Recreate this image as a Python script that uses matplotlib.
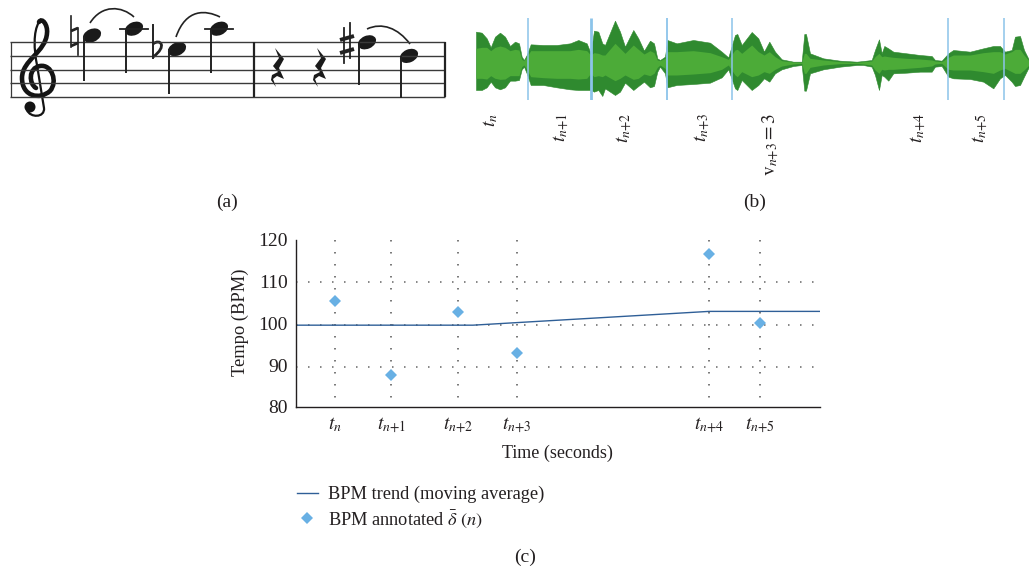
import numpy as np
import matplotlib
matplotlib.use("Agg")
import matplotlib.pyplot as plt
from matplotlib.patches import Ellipse, PathPatch
from matplotlib.path import Path

plt.rcParams['font.family'] = ['Liberation Serif', 'DejaVu Serif']
plt.rcParams['mathtext.fontset'] = 'stix'
plt.rcParams['lines.scale_dashes'] = False

INK = '#231f20'
W, H = 1029, 569

# panel (c) values; times are in hundreds of pixels along the time axis
beat_labels = [r'$t_n$', r'$t_{n{+}1}$', r'$t_{n{+}2}$', r'$t_{n{+}3}$', r'$t_{n{+}4}$', r'$t_{n{+}5}$']
beat_times = [0.39, 0.95, 1.62, 2.21, 4.13, 4.64]
bpm_annotated = [105.5, 87.6, 102.7, 92.9, 116.6, 100.2]
trend_times = [0, 1.77, 4.13, 5.24]
trend_bpm = [99.6, 99.6, 102.9, 102.9]
bpm_ticks = [80, 90, 100, 110, 120]
grid_bpm = [89.7, 99.6, 110]

# panel (b) waveform envelope (x in image pixels)
wave_x = [476, 481.7, 486.7, 490.7, 495, 500, 505, 510, 515, 519, 521.7, 524, 526.7, 530.7,
          543.3, 556.7, 570, 578.3, 586.7, 590.7, 594, 598.3, 602.3, 605, 615, 620, 625,
          633.3, 638.3, 644, 650, 654, 657.3,
          660, 665, 667.3, 676.7, 693.3, 710, 721.7, 728.3, 735, 737.3, 741.7, 751.7,
          758.3, 764, 769.3, 775, 781.7, 793.3, 801.7, 804.3, 806, 810, 823.3, 840, 856.7,
          863.3, 871.7, 875, 879, 881.7, 884.3, 888.3, 893.3, 906.7, 920, 931.7, 935, 941.7,
          948.3, 953.3, 970, 983.3, 993.3, 1000, 1005, 1011.7, 1015, 1020, 1024, 1029]
outer_top = [65, 68, 85, 112, 80, 68, 80, 108, 95, 100, 140, 150, 135, 103,
             105, 105, 100, 90, 100, 130, 62, 65, 100, 105, 32, 65, 110,
             60, 85, 122, 92, 100, 145,
             150, 140, 90, 100, 90, 98, 125, 142, 75, 72, 105, 66,
             85, 125, 95, 125, 148, 155, 155, 72, 72, 130, 145, 152, 155,
             153, 150, 120, 88, 130, 108, 115, 125, 130, 135, 138, 150, 152,
             130, 120, 125, 115, 108, 108, 125, 120, 80, 78, 120, 150]
inner_top = [115, 112, 112, 122, 112, 108, 112, 122, 118, 120, 148, 152, 140, 122,
             122, 122, 122, 118, 122, 135, 128, 130, 135, 135, 100, 115, 130,
             105, 118, 132, 122, 128, 150,
             152, 145, 125, 125, 122, 128, 140, 148, 120, 118, 130, 105,
             125, 135, 125, 140, 152, 156, 157, 130, 130, 145, 150, 155, 157,
             155, 153, 140, 130, 140, 138, 140, 142, 145, 147, 150, 153, 155,
             142, 135, 135, 128, 125, 125, 132, 125, 118, 118, 135, 152]
inner_bot = [205, 205, 207, 197, 205, 208, 207, 197, 197, 197, 170, 165, 178, 200,
             203, 205, 205, 207, 205, 190, 200, 197, 200, 195, 212, 205, 195,
             208, 205, 192, 197, 190, 172,
             165, 175, 195, 195, 192, 188, 178, 165, 195, 200, 185, 200,
             195, 185, 190, 178, 168, 162, 160, 190, 190, 172, 165, 161, 160,
             162, 165, 180, 190, 178, 180, 178, 178, 175, 172, 168, 162, 160,
             178, 180, 180, 185, 190, 180, 175, 185, 190, 190, 180, 165]
outer_bot = [240, 240, 232, 215, 232, 238, 232, 212, 212, 210, 178, 170, 190, 225,
             225, 232, 238, 240, 240, 240, 245, 240, 258, 235, 255, 245, 218,
             240, 228, 215, 232, 228, 185,
             170, 190, 232, 225, 222, 218, 202, 178, 235, 240, 210, 240,
             225, 205, 215, 190, 178, 168, 165, 242, 242, 190, 178, 170, 165,
             165, 170, 195, 240, 195, 200, 212, 190, 188, 185, 185, 170, 168,
             200, 205, 207, 215, 235, 205, 195, 215, 228, 225, 200, 170]
onset_x = [528.3, 591, 667.3, 732, 947.7, 1004.3]
onset_lw = [1.1, 2.0, 1.3, 1.1, 1.1, 1.1]
wave_labels = [r'$t_n$', r'$t_{n{+}1}$', r'$t_{n{+}2}$', r'$t_{n{+}3}$',
               r'$\mathrm{v}_{n{+}3}=3$', r'$t_{n{+}4}$', r'$t_{n{+}5}$']
wave_label_px = [491, 562, 625, 703, 771, 919, 981]

# panel (a) score: staff positions are in half line spaces from the bottom line
note_px = [92, 134, 177, 219, 367, 409]
note_steps = [9, 10, 7, 10, 8, 6]
stem_len = [45, 44, 45, 44, 43, 42]


def fx(px):
    return px / W


def fy(py):
    return 1 - py / H


def add_axes_px(fig, left, top, right, bottom):
    return fig.add_axes([fx(left), fy(bottom), (right - left) / W, (bottom - top) / H])


fig = plt.figure(figsize=(W / 100, H / 100), dpi=100)

# (a) score, drawn in pixel coordinates
ax_a = add_axes_px(fig, 0, 0, 460, 130)
ax_a.set_xlim(0, 460)
ax_a.set_ylim(130, 0)
ax_a.axis('off')

staff_y = [42.3, 56, 69.7, 83.3, 96.7]
ax_a.hlines(staff_y, 10, 445, color='#3a3a3a', lw=1.0)
ax_a.vlines([10.5], 42, 97, color='#3a3a3a', lw=0.9)
ax_a.vlines([254, 445], 42, 97, color='#222222', lw=1.6)
line_gap = (staff_y[4] - staff_y[0]) / 4
for px, step, slen in zip(note_px, note_steps, stem_len):
    py = staff_y[4] - step * line_gap / 2
    ax_a.add_patch(Ellipse((px, py), 19, 13, angle=-24, color='#1a1a1a', lw=0))
    sx = px - 8.5
    ax_a.plot([sx, sx], [py, py + slen], color='#222222', lw=1.4, solid_capstyle='butt')
ax_a.plot([120, 148], [29, 29], color='#222222', lw=1.3)
ax_a.plot([205, 233], [29, 29], color='#222222', lw=1.3)

# slurs
for p0, p1, p2, p3 in [((90, 23), (102, 4), (122, 6), (134, 17)),
                       ((176, 37), (186, 8), (206, 10), (220, 17)),
                       ((367, 29), (382, 22), (398, 28), (410, 44))]:
    slur = Path([p0, p1, p2, p3], [Path.MOVETO, Path.CURVE4, Path.CURVE4, Path.CURVE4])
    ax_a.add_patch(PathPatch(slur, fc='none', ec='#222222', lw=1.2))

# accidentals
ax_a.plot([71, 71], [16, 47], color='#222222', lw=1.2)
ax_a.plot([78, 78], [28, 55], color='#222222', lw=1.2)
ax_a.plot([71, 78], [31, 28], color='#222222', lw=2.0, solid_capstyle='butt')
ax_a.plot([71, 78], [46, 43], color='#222222', lw=2.0, solid_capstyle='butt')
ax_a.plot([153, 153], [25, 58], color='#222222', lw=1.4)
flat = Path([(153, 44), (160, 38), (168, 46), (153, 57)],
            [Path.MOVETO, Path.CURVE4, Path.CURVE4, Path.CURVE4])
ax_a.add_patch(PathPatch(flat, fc='none', ec='#222222', lw=2.0))
ax_a.plot([344, 344], [28, 63], color='#222222', lw=1.3)
ax_a.plot([350, 350], [23, 58], color='#222222', lw=1.3)
ax_a.plot([340, 354], [40, 36], color='#222222', lw=2.8, solid_capstyle='butt')
ax_a.plot([340, 354], [53, 49], color='#222222', lw=2.8, solid_capstyle='butt')

# quarter rests
for rx in [278, 320]:
    ax_a.add_patch(plt.Polygon([(rx - 3, 48), (rx + 6, 59), (rx + 1, 68), (rx + 6, 79),
                                (rx - 1, 76), (rx - 5, 79), (rx - 2, 87), (rx - 7, 80),
                                (rx - 6, 75), (rx, 72), (rx - 5, 66), (rx + 1, 58)],
                               closed=True, fc='#1a1a1a', ec='none'))

# treble clef
clef = Path([(36, 88), (29, 84), (28, 68), (40, 66),
             (52, 64), (58, 82), (50, 91),
             (40, 100), (22, 97), (22, 78),
             (22, 60), (46, 52), (47, 33),
             (48, 25), (42, 17), (39, 22)],
            [Path.MOVETO] + [Path.CURVE4] * 15)
ax_a.add_patch(PathPatch(clef, fc='none', ec='#141414', lw=3.3, capstyle='round'))
stem = Path([(39, 22), (33, 32), (34, 50), (37, 65), (44, 108), (45, 118), (30, 118), (27, 110)],
            [Path.MOVETO, Path.CURVE4, Path.CURVE4, Path.CURVE4, Path.LINETO,
             Path.CURVE4, Path.CURVE4, Path.CURVE4])
ax_a.add_patch(PathPatch(stem, fc='none', ec='#141414', lw=1.6))
ax_a.add_patch(Ellipse((30, 107), 11, 11, color='#141414', lw=0))

# (b) waveform
ax_b = add_axes_px(fig, 475, 18, 1029, 100)
ax_b.set_xlim(475, 1029)
ax_b.set_ylim(270, 24)
ax_b.axis('off')
ax_b.fill_between(wave_x, outer_top, outer_bot, color='#2f8a2f', lw=0.4)
ax_b.fill_between(wave_x, inner_top, inner_bot, color='#4cab38', lw=0)
ax_b.vlines(onset_x, 24, 270, color='#8cc4ea', lw=onset_lw)
for label, px in zip(wave_labels, wave_label_px):
    fig.text(fx(px), fy(113), label, rotation=90, ha='center', va='top', fontsize=14, color=INK)

# (c) tempo chart
ax_c = add_axes_px(fig, 296, 240, 820, 407)
ax_c.set_xlim(0, 5.24)
ax_c.set_ylim(80, 120)
for side in ['top', 'right']:
    ax_c.spines[side].set_visible(False)
for side in ['left', 'bottom']:
    ax_c.spines[side].set_linewidth(1.0)
    ax_c.spines[side].set_color(INK)
ax_c.hlines(grid_bpm, 0, 5.2, color='#666666', lw=1.1, linestyles=[(0, (1.1, 7.54))])
ax_c.vlines(beat_times, 120, 80, color='#555555', lw=1.1, linestyles=[(0, (1.1, 7.54))])
line_trend, = ax_c.plot(trend_times, trend_bpm, color='#2f5f97', lw=1.0,
                        label='BPM trend (moving average)')
line_points, = ax_c.plot(beat_times, bpm_annotated, ls='none', marker='D', ms=6, color='#68b0e4',
                         mew=0, label=r'BPM annotated $\bar{\delta}\ (n)$', zorder=5)
ax_c.set_yticks(bpm_ticks)
ax_c.set_xticks(beat_times)
ax_c.set_xticklabels(beat_labels, fontsize=14, color=INK)
ax_c.tick_params(axis='x', length=0, pad=6)
ax_c.tick_params(axis='y', length=0, pad=6, labelsize=14, labelcolor=INK)
fig.text(fx(240), fy(322), 'Tempo (BPM)', rotation=90, ha='center', va='center', fontsize=13.3, color=INK)
fig.text(fx(557), fy(453), 'Time (seconds)', ha='center', va='center', fontsize=13, color=INK)

fig.legend(handles=[line_trend, line_points], loc='upper left',
           bbox_to_anchor=(fx(293), fy(482)), frameon=False, fontsize=13.2, labelcolor=INK,
           handlelength=1.15, labelspacing=0.3, handletextpad=0.55, borderpad=0.2, borderaxespad=0)

# panel letters
for label, px, py in [('(a)', 227, 202), ('(b)', 755, 202), ('(c)', 525, 557)]:
    fig.text(fx(px), fy(py), label, ha='center', va='center', fontsize=14, color=INK)

fig.savefig('out.png', dpi=100, facecolor='white')
